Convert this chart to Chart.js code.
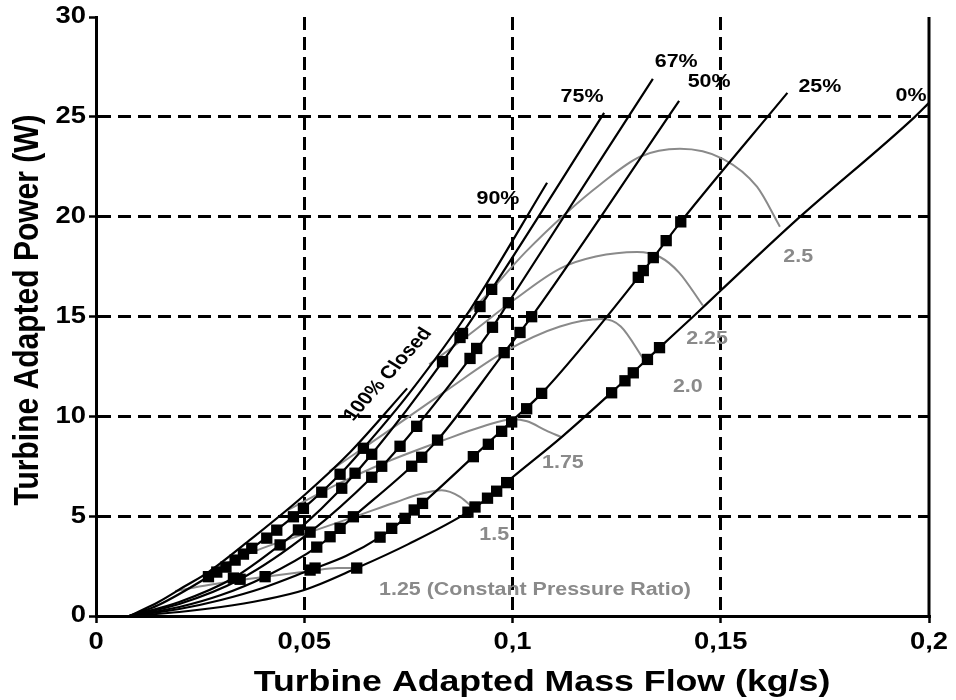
<!DOCTYPE html>
<html>
<head>
<meta charset="utf-8">
<script src="https://cdn.jsdelivr.net/npm/chart.js@4.4.0/dist/chart.umd.min.js"></script>
<style>
  html, body { margin: 0; padding: 0; background: #fff; }
</style>
</head>
<body>
<canvas id="grafico-turbina" width="956" height="700"></canvas>
<script>
// Rótulos dos eixos (vírgula decimal como no original)
const xTickLabels = ['0', '0,05', '0,1', '0,15', '0,2'];
const yTickLabels = ['0', '5', '10', '15', '20', '25', '30'];

// Curvas de abertura da válvula [vazão kg/s, potência W]
const closed100 = [[0.008, 0], [0.015, 0.7], [0.021, 1.45], [0.027, 2.2], [0.0372, 3.85], [0.05, 6.05], [0.061, 8.2], [0.0747, 11.4]];
const open90 = [[0.008, 0], [0.015, 0.55], [0.027, 1.97], [0.0374, 3.39], [0.0498, 5.39], [0.0586, 7.1], [0.0642, 8.4], [0.075, 11.1], [0.09, 15.4], [0.1083, 21.7]];
const open75 = [[0.008, 0], [0.02, 0.7], [0.033, 1.9], [0.0442, 3.56], [0.0486, 4.31], [0.059, 6.4], [0.0662, 8.1], [0.0832, 12.74], [0.095, 16.36], [0.122, 25.2]];
const open67 = [[0.008, 0], [0.02, 0.6], [0.0346, 1.84], [0.0514, 4.2], [0.0662, 6.95], [0.073, 8.5], [0.077, 9.5], [0.0898, 12.9], [0.0952, 14.46], [0.099, 15.69], [0.1337, 26.9]];
const open50 = [[0.008, 0], [0.02, 0.45], [0.03, 1.05], [0.0406, 1.97], [0.0534, 3.5], [0.0586, 4.39], [0.0618, 4.97], [0.0758, 7.5], [0.082, 8.81], [0.098, 13.19], [0.1046, 14.99], [0.14, 25.8]];
const open25 = [[0.008, 0], [0.02, 0.35], [0.03, 0.8], [0.04, 1.4], [0.0514, 2.3], [0.06, 3.0], [0.0682, 3.95], [0.0742, 4.89], [0.0784, 5.64], [0.0906, 7.98], [0.1, 9.8], [0.107, 11.15], [0.1302, 16.96], [0.1404, 19.74], [0.166, 26.2]];
const open0 = [[0.008, 0], [0.02, 0.2], [0.03, 0.45], [0.04, 0.8], [0.05, 1.3], [0.0626, 2.4], [0.075, 3.6], [0.0893, 5.2], [0.094, 5.9], [0.1, 6.95], [0.112, 9.0], [0.1238, 11.2], [0.1353, 13.44], [0.1434, 15], [0.15, 16.3], [0.168, 19.8], [0.1966, 25], [0.2, 25.7]];

// Linhas de razão de pressão constante
const pr125 = [[0.019, 1.25], [0.027, 1.55], [0.033, 1.75], [0.0406, 1.97], [0.0514, 2.25], [0.058, 2.4], [0.0626, 2.4]];
const pr150 = [[0.028, 2.35], [0.04, 3.4], [0.0514, 4.2], [0.0618, 4.95], [0.072, 5.7], [0.0785, 6.15], [0.083, 6.3], [0.0874, 5.97], [0.0906, 5.4]];
const pr175 = [[0.046, 5.3], [0.058, 6.6], [0.069, 7.65], [0.0834, 8.8], [0.093, 9.5], [0.1001, 9.86], [0.1035, 9.75], [0.108, 9.3], [0.1118, 8.95]];
const pr200 = [[0.056, 7.25], [0.0682, 8.98], [0.0842, 11.3], [0.0978, 13.2], [0.1114, 14.5], [0.1217, 14.87], [0.126, 14.5], [0.1315, 12.85]];
const pr225 = [[0.08, 12.6], [0.089, 14.0], [0.1002, 15.8], [0.1114, 17.4], [0.12, 18.0], [0.1299, 18.23], [0.1354, 17.98], [0.14, 17.2], [0.1457, 15.55]];
const pr250 = [[0.089, 15.1], [0.093, 15.9], [0.103, 18.2], [0.113, 20.2], [0.121, 21.6], [0.1306, 23.0], [0.1402, 23.4], [0.1505, 22.9], [0.1587, 21.5], [0.1642, 19.5]];

// Pontos medidos (quadrados pretos)
const measured90 = [[0.027, 1.97], [0.029, 2.2], [0.0312, 2.45], [0.0334, 2.8], [0.0354, 3.1], [0.0374, 3.39], [0.041, 3.9], [0.0434, 4.3], [0.0474, 4.97], [0.0498, 5.39], [0.0542, 6.2], [0.0586, 7.1], [0.0642, 8.4]];
const measured75 = [[0.033, 1.9], [0.0442, 3.56], [0.0486, 4.31], [0.059, 6.4], [0.0622, 7.15], [0.0662, 8.1], [0.0832, 12.74], [0.0874, 13.95], [0.088, 14.15], [0.0922, 15.5], [0.095, 16.36]];
const measured67 = [[0.0346, 1.84], [0.0514, 4.2], [0.0662, 6.95], [0.0686, 7.5], [0.073, 8.5], [0.077, 9.5], [0.0898, 12.9], [0.0914, 13.4], [0.0952, 14.46], [0.099, 15.69]];
const measured50 = [[0.0406, 1.97], [0.053, 3.45], [0.0562, 3.97], [0.0586, 4.39], [0.0618, 4.97], [0.0758, 7.5], [0.0782, 7.95], [0.082, 8.81], [0.098, 13.19], [0.1018, 14.2], [0.1046, 14.99]];
const measured25 = [[0.0514, 2.3], [0.0526, 2.4], [0.0682, 3.95], [0.071, 4.39], [0.0742, 4.89], [0.0764, 5.31], [0.0784, 5.64], [0.0906, 7.98], [0.0942, 8.6], [0.0974, 9.25], [0.0998, 9.72], [0.1034, 10.38], [0.107, 11.15], [0.1302, 16.96], [0.1314, 17.3], [0.1338, 17.95], [0.1369, 18.8], [0.1404, 19.74]];
const measured0 = [[0.0626, 2.4], [0.0893, 5.2], [0.091, 5.46], [0.094, 5.9], [0.0962, 6.25], [0.0986, 6.68], [0.1238, 11.18], [0.127, 11.78], [0.129, 12.18], [0.1324, 12.85], [0.1353, 13.44]];

const valveCurves = [closed100, open90, open75, open67, open50, open25, open0];
const ratioCurves = [pr125, pr150, pr175, pr200, pr225, pr250];
const measuredSets = [measured90, measured75, measured67, measured50, measured25, measured0];

// Textos sobre o gráfico e onde ficam (coordenadas de dados, ângulo)
const valveNotes = [
  ['100% Closed', 0.0701, 12.1, -53], ['90%', 0.0965, 20.9, 0], ['75%', 0.1167, 26.0, 0],
  ['67%', 0.1393, 27.75, 0], ['50%', 0.1472, 26.75, 0], ['25%', 0.1738, 26.5, 0], ['0%', 0.1957, 26.05, 0]
];
const ratioNotes = [
  ['2.5', 0.1686, 18.0], ['2.25', 0.1467, 13.85], ['2.0', 0.1421, 11.45],
  ['1.75', 0.1121, 7.65], ['1.5', 0.0956, 4.05], ['1.25 (Constant Pressure Ratio)', 0.1054, 1.3]
];

const toXY = pts => pts.map(([x, y]) => ({ x, y }));

const datasets = [];
measuredSets.forEach(pts => datasets.push({
    data: toXY(pts), showLine: false, order: 0,
    pointStyle: 'rect', pointRadius: 8, pointHoverRadius: 8,
    backgroundColor: '#000', borderColor: '#000', borderWidth: 0
}));
valveCurves.forEach(pts => datasets.push({
    data: toXY(pts), showLine: true, order: 1, pointRadius: 0,
    borderColor: '#000', borderWidth: 2.2, cubicInterpolationMode: 'monotone'
}));
ratioCurves.forEach(pts => datasets.push({
    data: toXY(pts), showLine: true, order: 2, pointRadius: 0,
    borderColor: '#8a8a8a', borderWidth: 2, cubicInterpolationMode: 'monotone'
}));

// O texto do original é um pouco alargado na horizontal
const ESTICA = 1.19;
const FAMILIA = '"Liberation Sans", Arial, sans-serif';
function texto(ctx, txt, px, py, graus) {
    ctx.save();
    ctx.translate(px, py);
    ctx.scale(ESTICA, 1);
    if (graus) ctx.rotate(graus * Math.PI / 180);
    ctx.fillText(txt, 0, 0);
    ctx.restore();
}

// Rótulos, títulos e moldura direita
const notas = {
    id: 'notas',
    afterDraw(chart) {
        const { ctx, chartArea, scales: { x, y } } = chart;
        ctx.save();
        ctx.strokeStyle = '#000';
        ctx.lineWidth = 3;
        ctx.beginPath();
        ctx.moveTo(chartArea.right, chartArea.top);
        ctx.lineTo(chartArea.right, chartArea.bottom);
        ctx.stroke();

        ctx.fillStyle = '#000';
        ctx.textBaseline = 'middle';
        ctx.font = `bold 23px ${FAMILIA}`;
        ctx.textAlign = 'center';
        x.ticks.forEach((t, i) => texto(ctx, xTickLabels[i], x.getPixelForValue(t.value), chartArea.bottom + 27));
        ctx.textAlign = 'right';
        y.ticks.forEach((t, i) => texto(ctx, yTickLabels[i], chartArea.left - 10, y.getPixelForValue(t.value)));

        ctx.textAlign = 'center';
        ctx.font = `bold 30px ${FAMILIA}`;
        texto(ctx, 'Turbine Adapted Mass Flow (kg/s)', 542, 683);
        texto(ctx, 'Turbine Adapted Power (W)', 28, 310, -90);

        ctx.font = `bold 18px ${FAMILIA}`;
        valveNotes.forEach(([txt, vx, vy, rot]) => texto(ctx, txt, x.getPixelForValue(vx), y.getPixelForValue(vy), rot));
        ctx.fillStyle = '#8a8a8a';
        ratioNotes.forEach(([txt, vx, vy]) => texto(ctx, txt, x.getPixelForValue(vx), y.getPixelForValue(vy)));
        ctx.restore();
    }
};

const semBordas = ctx => (ctx.index === 0 || ctx.index === ctx.scale.ticks.length - 1) ? 'rgba(0,0,0,0)' : '#000';
const grade = { color: semBordas, lineWidth: 3, tickColor: '#000', tickLength: 7, tickWidth: 2.5 };
const borda = { display: true, color: '#000', width: 3, dash: [13, 7] };

new Chart(document.getElementById('grafico-turbina'), {
    type: 'scatter',
    data: { datasets },
    options: {
        responsive: false,
        animation: false,
        events: [],
        layout: { padding: { top: 17, right: 27, left: 0, bottom: 0 } },
        plugins: { legend: { display: false }, tooltip: { enabled: false } },
        scales: {
            x: {
                type: 'linear', min: 0, max: 0.2,
                afterFit: s => { s.height = 84; },
                ticks: { stepSize: 0.05, display: false },
                grid: grade,
                border: borda
            },
            y: {
                min: 0, max: 30,
                afterFit: s => { s.width = 96; },
                ticks: { stepSize: 5, display: false },
                grid: grade,
                border: borda
            }
        }
    },
    plugins: [notas]
});
</script>
</body>
</html>
